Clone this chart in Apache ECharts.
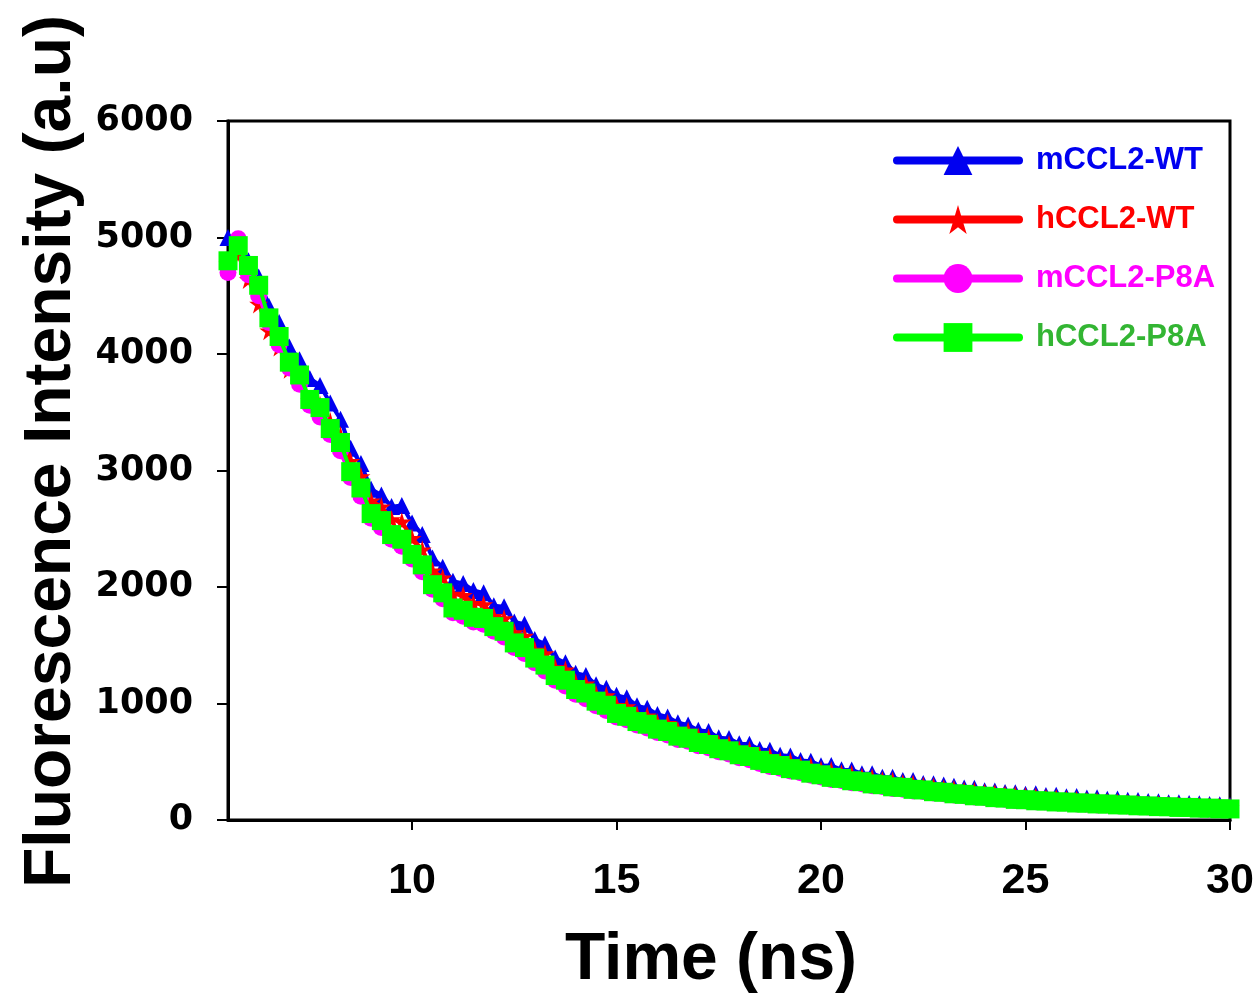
<!DOCTYPE html>
<html>
<head>
<meta charset="utf-8">
<script src="https://cdn.jsdelivr.net/npm/echarts@6/dist/echarts.min.js"></script>
<style>
  html, body { margin: 0; padding: 0; background: #fff; }
  #chart { width: 1258px; height: 999px; }
</style>
</head>
<body>
<div id="chart"></div>
<script>
// time axis (ns), one sample every 0.25 ns
var times = [
    5.5, 5.75, 6, 6.25, 6.5, 6.75, 7, 7.25, 7.5, 7.75, 8,
    8.25, 8.5, 8.75, 9, 9.25, 9.5, 9.75, 10, 10.25, 10.5,
    10.75, 11, 11.25, 11.5, 11.75, 12, 12.25, 12.5, 12.75, 13,
    13.25, 13.5, 13.75, 14, 14.25, 14.5, 14.75, 15, 15.25, 15.5,
    15.75, 16, 16.25, 16.5, 16.75, 17, 17.25, 17.5, 17.75, 18,
    18.25, 18.5, 18.75, 19, 19.25, 19.5, 19.75, 20, 20.25, 20.5,
    20.75, 21, 21.25, 21.5, 21.75, 22, 22.25, 22.5, 22.75, 23,
    23.25, 23.5, 23.75, 24, 24.25, 24.5, 24.75, 25, 25.25, 25.5,
    25.75, 26, 26.25, 26.5, 26.75, 27, 27.25, 27.5, 27.75, 28,
    28.25, 28.5, 28.75, 29, 29.25, 29.5, 29.75, 30
];

var mWT = [
    5000, 4980, 4800, 4660, 4410, 4270, 4060, 3950, 3790, 3730, 3580,
    3440, 3190, 3060, 2840, 2790, 2690, 2700, 2550, 2450, 2250,
    2170, 2050, 2030, 1970, 1950, 1840, 1830, 1700, 1680, 1550,
    1510, 1390, 1350, 1260, 1240, 1160, 1130, 1070, 1050, 980,
    960, 905, 885, 835, 815, 770, 760, 705, 700, 655,
    650, 605, 598, 555, 550, 510, 505, 465, 468, 432,
    430, 398, 398, 368, 366, 340, 338, 314, 312, 300,
    290, 274, 272, 252, 250, 236, 234, 222, 225, 210,
    212, 200, 202, 189, 191, 178, 180, 170, 168, 158,
    157, 149, 148, 141, 140, 132, 130, 124
];

var hWT = [
    4780, 4850, 4640, 4430, 4200, 4060, 3870, 3760, 3600, 3560, 3420,
    3300, 3080, 2950, 2740, 2690, 2580, 2560, 2420, 2320, 2140,
    2080, 1940, 1930, 1860, 1850, 1750, 1730, 1610, 1580, 1460,
    1430, 1310, 1290, 1180, 1170, 1080, 1070, 985, 975, 905,
    895, 835, 830, 770, 765, 712, 705, 652, 648, 602,
    598, 553, 548, 508, 502, 468, 462, 430, 424, 398,
    392, 367, 362, 340, 335, 314, 309, 291, 286, 270,
    265, 250, 246, 232, 228, 216, 212, 201, 197, 187,
    184, 175, 172, 163, 161, 153, 151, 143, 141, 135,
    133, 127, 125, 120, 119, 114, 112, 109
];

var mP8A = [
    4700, 4990, 4680, 4500, 4270, 4080, 3880, 3740, 3560, 3460, 3310,
    3170, 2940, 2780, 2590, 2510, 2410, 2350, 2240, 2130, 1980,
    1900, 1780, 1750, 1700, 1680, 1620, 1570, 1480, 1430, 1350,
    1280, 1200, 1150, 1080, 1040, 980, 940, 885, 860, 815,
    790, 752, 730, 692, 675, 637, 620, 585, 566, 534,
    518, 486, 460, 444, 420, 406, 384, 370, 348, 340,
    320, 312, 294, 287, 270, 265, 250, 244, 231, 226,
    214, 209, 198, 194, 183, 178, 168, 165, 156, 154,
    147, 145, 137, 136, 129, 128, 122, 120, 114, 112,
    107, 105, 100, 99, 95, 93, 89, 87
];

var hP8A = [
    4800, 4930, 4760, 4590, 4310, 4150, 3930, 3820, 3610, 3540, 3360,
    3240, 2990, 2850, 2630, 2570, 2450, 2410, 2280, 2190, 2020,
    1950, 1820, 1800, 1740, 1730, 1660, 1620, 1520, 1480, 1390,
    1330, 1240, 1200, 1120, 1090, 1020, 985, 915, 890, 845,
    822, 780, 760, 720, 702, 665, 648, 612, 594, 560,
    545, 512, 484, 468, 441, 428, 402, 388, 366, 357,
    337, 329, 310, 303, 285, 280, 263, 258, 243, 238,
    225, 220, 208, 204, 192, 188, 177, 174, 165, 163,
    155, 154, 146, 145, 138, 137, 130, 129, 122, 121,
    115, 114, 108, 108, 102, 102, 96, 95
];

var xTickValues = [10, 15, 20, 25, 30];

var seriesNames = ['mCCL2-WT', 'hCCL2-WT', 'mCCL2-P8A', 'hCCL2-P8A'];
var seriesValues = [mWT, hWT, mP8A, hP8A];
var lineColors = ['#0000f0', '#ff0000', '#ff00ff', '#00ff00'];
var labelColors = ['#0000f0', '#ff0000', '#ff00ff', '#33b533'];

var starPath = 'path://M50,0 L61,35 L98,35 L68,57 L79,91 L50,70 L21,91 L32,57 L2,35 L39,35 Z';
var symbols = ['triangle', starPath, 'circle', 'rect'];
var symbolSizes = [17, 19, 17, 19];

function pairs(values) {
    return times.map(function (t, i) { return [t, values[i]]; });
}

var chart = echarts.init(document.getElementById('chart'));

var series = seriesNames.map(function (name, i) {
    return {
        name: name,
        type: 'line',
        data: pairs(seriesValues[i]),
        symbol: symbols[i],
        symbolSize: symbolSizes[i],
        showSymbol: true,
        showAllSymbol: true,
        clip: false,
        color: lineColors[i],
        itemStyle: { color: lineColors[i] },
        lineStyle: { color: lineColors[i], width: 4 },
        z: 2 + i
    };
});

var option = {
    animation: false,
    backgroundColor: '#fff',
    grid: {
        left: 228, right: 28, top: 121, bottom: 177,
        show: true, borderColor: '#000', borderWidth: 3,
        containLabel: false
    },
    legend: {
        orient: 'vertical',
        left: 888,
        top: 140,
        itemWidth: 122,
        itemHeight: 36,
        itemGap: 28,
        lineStyle: { width: 8, cap: 'round' },
        textStyle: {
            fontFamily: 'Liberation Sans, Arial, sans-serif',
            fontWeight: 'bold',
            fontSize: 31,
            padding: [0, 0, 0, 12]
        },
        data: seriesNames.map(function (n, i) {
            return { name: n, textStyle: { color: labelColors[i] } };
        })
    },
    xAxis: {
        type: 'value',
        min: 5.5,
        max: 30,
        name: 'Time (ns)',
        nameLocation: 'middle',
        nameGap: 108,
        nameTextStyle: {
            fontFamily: 'Liberation Sans, Arial, sans-serif',
            fontWeight: 'bold',
            fontSize: 66,
            color: '#000',
            padding: [0, 36, 0, 0]
        },
        axisLine: { onZero: false, lineStyle: { color: '#000', width: 3 } },
        axisTick: { show: true, customValues: xTickValues, length: 10, inside: false,
                    lineStyle: { color: '#000', width: 2 } },
        axisLabel: { customValues: xTickValues, margin: 40, color: '#000',
                     fontFamily: 'Liberation Sans, Arial, sans-serif',
                     fontWeight: 'bold', fontSize: 43 },
        splitLine: { show: false }
    },
    yAxis: {
        type: 'value',
        min: 0,
        max: 6000,
        interval: 1000,
        name: 'Fluorescence Intensity (a.u)',
        nameLocation: 'middle',
        nameGap: 142,
        nameTextStyle: {
            fontFamily: 'Liberation Sans, Arial, sans-serif',
            fontWeight: 'bold',
            fontSize: 66,
            color: '#000',
            padding: [0, 0, 0, 38]
        },
        axisLine: { show: true, lineStyle: { color: '#000', width: 3 } },
        axisTick: { show: true, length: 11, inside: false,
                    lineStyle: { color: '#000', width: 2 } },
        axisLabel: { margin: 35, color: '#000',
                     fontFamily: 'DejaVu Sans, sans-serif',
                     fontWeight: 'bold', fontSize: 35,
                     formatter: function (v) { return String(v); } },
        splitLine: { show: false }
    },
    series: series
};

chart.setOption(option);
</script>
</body>
</html>
